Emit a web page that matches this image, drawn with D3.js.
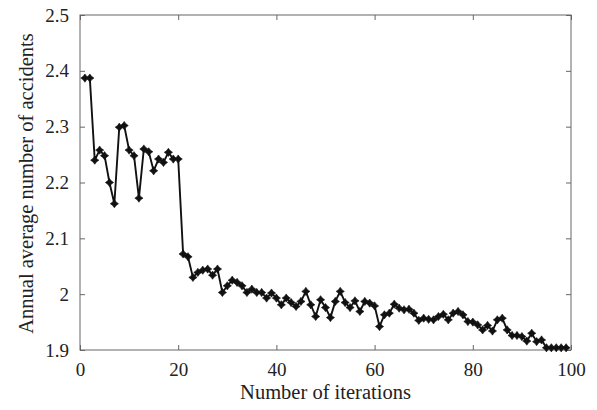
<!DOCTYPE html>
<html>
<head>
<meta charset="utf-8">
<script src="https://cdn.jsdelivr.net/npm/d3@7"></script>
<style>
  body { margin: 0; background: #fff; }
</style>
</head>
<body>
<div id="chart"></div>
<script>
// ---- data ----
const xTicks = [0, 20, 40, 60, 80, 100];
const yTicks = [1.9, 2.0, 2.1, 2.2, 2.3, 2.4, 2.5];
const accidents = [
  2.387, 2.387, 2.240, 2.258, 2.248, 2.200, 2.162, 2.299, 2.302, 2.258,
  2.248, 2.172, 2.260, 2.255, 2.221, 2.242, 2.236, 2.254, 2.242, 2.242,
  2.072, 2.067, 2.030, 2.039, 2.043, 2.045, 2.034, 2.045, 2.003, 2.015,
  2.025, 2.021, 2.015, 2.003, 2.009, 2.003, 2.003, 1.993, 2.002, 1.993,
  1.981, 1.993, 1.985, 1.978, 1.987, 2.005, 1.981, 1.960, 1.990, 1.976,
  1.958, 1.987, 2.005, 1.985, 1.976, 1.988, 1.969, 1.987, 1.984, 1.979,
  1.942, 1.963, 1.966, 1.982, 1.975, 1.972, 1.973, 1.966, 1.953, 1.957,
  1.955, 1.954, 1.960, 1.964, 1.954, 1.966, 1.969, 1.963, 1.951, 1.950,
  1.945, 1.936, 1.944, 1.934, 1.954, 1.957, 1.936, 1.926, 1.926, 1.924,
  1.916, 1.930, 1.915, 1.918, 1.904, 1.904, 1.904, 1.904, 1.904
];
const iterations = accidents.map((_, i) => i + 1);

const width = 597, height = 410;
const margin = { top: 15, right: 26, bottom: 60, left: 80 };
const innerW = width - margin.left - margin.right;
const innerH = height - margin.top - margin.bottom;
const serif = '"Liberation Serif", "DejaVu Serif", serif';

const svg = d3.select('#chart').append('svg')
  .attr('width', width)
  .attr('height', height)
  .attr('font-family', serif);

const g = svg.append('g')
  .attr('transform', `translate(${margin.left},${margin.top})`);

const x = d3.scaleLinear().domain([0, 100]).range([0, innerW]);
const y = d3.scaleLinear().domain([1.9, 2.5]).range([innerH, 0]);

const axisColor = '#666';
const fmtY = d => (d === 2 ? '2' : d3.format('.1f')(d));

// bottom / left axes with inward ticks
g.append('g').attr('transform', `translate(0,${innerH})`)
  .call(d3.axisBottom(x).tickValues(xTicks).tickSizeInner(-5).tickSizeOuter(0).tickPadding(13));
g.append('g')
  .call(d3.axisLeft(y).tickValues(yTicks).tickFormat(fmtY).tickSizeInner(-5).tickSizeOuter(0).tickPadding(11));
// top / right: ticks only
g.append('g')
  .call(d3.axisTop(x).tickValues(xTicks).tickSizeInner(-5).tickSizeOuter(0).tickFormat(''));
g.append('g').attr('transform', `translate(${innerW},0)`)
  .call(d3.axisRight(y).tickValues(yTicks).tickSizeInner(-5).tickSizeOuter(0).tickFormat(''));

g.selectAll('.domain').remove();
g.selectAll('g').attr('font-family', serif);
g.selectAll('.tick line').attr('stroke', axisColor);
g.selectAll('.tick text').attr('font-size', '19px').attr('fill', '#222');

g.append('rect')
  .attr('width', innerW).attr('height', innerH)
  .attr('fill', 'none').attr('stroke', axisColor).attr('stroke-width', 1);

// line
const pts = iterations.map((it, i) => ({ it, v: accidents[i] }));
g.append('path')
  .datum(pts)
  .attr('fill', 'none')
  .attr('stroke', '#111')
  .attr('stroke-width', 1.9)
  .attr('d', d3.line().x(d => x(d.it)).y(d => y(d.v)));

// 4-point star markers
const star4 = {
  draw(ctx, size) {
    const r = Math.sqrt(size), k = r * 0.42;
    ctx.moveTo(0, -r);
    ctx.lineTo(k, -k); ctx.lineTo(r, 0); ctx.lineTo(k, k);
    ctx.lineTo(0, r); ctx.lineTo(-k, k); ctx.lineTo(-r, 0); ctx.lineTo(-k, -k);
    ctx.closePath();
  }
};
g.append('g').selectAll('path.mk')
  .data(pts)
  .join('path')
  .attr('class', 'mk')
  .attr('transform', d => `translate(${x(d.it)},${y(d.v)})`)
  .attr('fill', '#111')
  .attr('stroke', '#111')
  .attr('stroke-width', 0.6)
  .attr('d', d3.symbol().type(star4).size(17));

// axis titles
svg.append('text')
  .attr('x', margin.left + innerW / 2)
  .attr('y', 399)
  .attr('text-anchor', 'middle')
  .attr('font-size', '20.5px')
  .attr('fill', '#222')
  .text('Number of iterations');

svg.append('text')
  .attr('transform', `translate(33,${margin.top + innerH / 2 + 1}) rotate(-90)`)
  .attr('text-anchor', 'middle')
  .attr('font-size', '20.5px')
  .attr('fill', '#222')
  .text('Annual average number of accidents');
</script>
</body>
</html>
